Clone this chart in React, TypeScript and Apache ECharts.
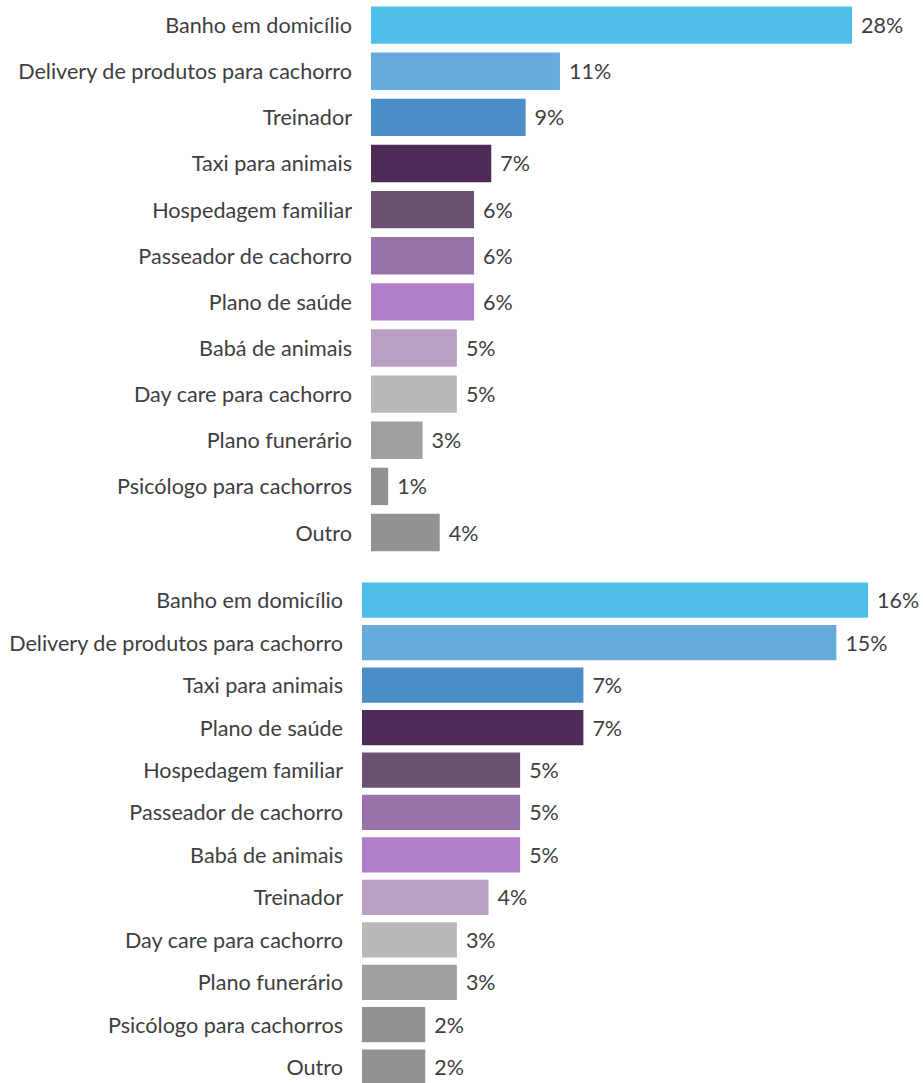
import React, { useEffect, useRef } from "react";
import * as echarts from "echarts";

const categoriesTop = [
  "Banho em domicílio",
  "Delivery de produtos para cachorro",
  "Treinador",
  "Taxi para animais",
  "Hospedagem familiar",
  "Passeador de cachorro",
  "Plano de saúde",
  "Babá de animais",
  "Day care para cachorro",
  "Plano funerário",
  "Psicólogo para cachorros",
  "Outro",
];
const valuesTop = [28, 11, 9, 7, 6, 6, 6, 5, 5, 3, 1, 4];

const categoriesBottom = [
  "Banho em domicílio",
  "Delivery de produtos para cachorro",
  "Taxi para animais",
  "Plano de saúde",
  "Hospedagem familiar",
  "Passeador de cachorro",
  "Babá de animais",
  "Treinador",
  "Day care para cachorro",
  "Plano funerário",
  "Psicólogo para cachorros",
  "Outro",
];
const valuesBottom = [16, 15, 7, 7, 5, 5, 5, 4, 3, 3, 2, 2];

const rankColors = [
  "#4EBFEA",
  "#68AADB",
  "#4A8EC8",
  "#4E2A58",
  "#6B5275",
  "#9872A8",
  "#B07FC7",
  "#BBA0C6",
  "#B9B9B9",
  "#A0A0A0",
  "#929292",
  "#929292",
];

const TEXT = "#3E3E3E";
const FONT = "Lato";

export default function App() {
  const ref = useRef<HTMLDivElement>(null);
  useEffect(() => {
    if (!ref.current) return;
    const chart = echarts.init(ref.current, null, { renderer: "svg" });
    const mkData = (vals: number[]) =>
      vals.map((v, i) => ({ value: v, itemStyle: { color: rankColors[i] } }));
    const labelStyle = {
      show: true,
      position: "right" as const,
      distance: 9,
      formatter: "{c}%",
      color: TEXT,
      fontFamily: FONT,
      fontSize: 21.5,
    };
    const yAxisBase = {
      type: "category" as const,
      inverse: true,
      axisLine: { show: false },
      axisTick: { show: false },
      axisLabel: {
        color: TEXT,
        fontFamily: FONT,
        fontSize: 21.6,
        margin: 19,
      },
    };
    const xAxisBase = {
      type: "value" as const,
      min: 0,
      show: false,
      splitLine: { show: false },
    };
    chart.setOption({
      animation: false,
      backgroundColor: "#ffffff",
      grid: [
        { left: 371, width: 481, top: 2, height: 553.6 },
        { left: 362, width: 506, top: 579, height: 509.4 },
      ],
      xAxis: [
        { ...xAxisBase, gridIndex: 0, max: 28 },
        { ...xAxisBase, gridIndex: 1, max: 16 },
      ],
      yAxis: [
        { ...yAxisBase, gridIndex: 0, data: categoriesTop },
        { ...yAxisBase, gridIndex: 1, data: categoriesBottom },
      ],
      series: [
        {
          type: "bar",
          xAxisIndex: 0,
          yAxisIndex: 0,
          data: mkData(valuesTop),
          barCategoryGap: "19%",
          label: labelStyle,
        },
        {
          type: "bar",
          xAxisIndex: 1,
          yAxisIndex: 1,
          data: mkData(valuesBottom),
          barCategoryGap: "17%",
          label: labelStyle,
        },
      ],
    });
    return () => chart.dispose();
  }, []);
  return (
    <div
      ref={ref}
      style={{ position: "fixed", left: 0, top: 0, width: 923, height: 1100 }}
    />
  );
}
